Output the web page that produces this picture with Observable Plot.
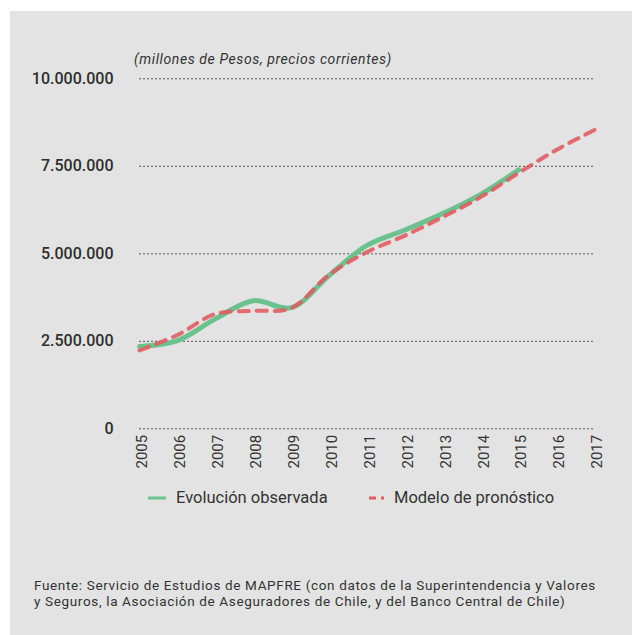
<!DOCTYPE html>
<html><head><meta charset="utf-8">
<script src="https://cdn.jsdelivr.net/npm/d3@7"></script>
<script src="https://cdn.jsdelivr.net/npm/@observablehq/plot@0.6"></script>
<style>
body{margin:0;background:#fff;width:632px;height:635px;overflow:hidden;font-family:Roboto,sans-serif;color:#333;}
#panel{position:absolute;left:10px;top:11px;width:622px;height:624px;background:#e2e3e2;}
#chart{position:absolute;left:0;top:0;}
.abs{position:absolute;white-space:nowrap;}
#sub{left:124px;top:40.7px;font-size:14px;line-height:14px;font-style:italic;letter-spacing:0.6px;}
.leg{top:479.3px;font-size:16.5px;line-height:16px;}
.foot{left:24px;font-size:13.5px;line-height:13.5px;letter-spacing:0.65px;}
</style></head>
<body>
<div id="panel">
  <div id="chart"></div>
  <div id="sub" class="abs">(millones de Pesos, precios corrientes)</div>
  <svg class="abs" style="left:0;top:0" width="622" height="624">
    <line x1="138" x2="156" y1="487" y2="487" stroke="#6cc28e" stroke-width="3"/>
    <line x1="359" x2="366" y1="487" y2="487" stroke="#e05a5e" stroke-width="3"/>
    <line x1="371" x2="374" y1="487" y2="487" stroke="#e05a5e" stroke-width="3"/>
  </svg>
  <div class="abs leg" style="left:166px">Evolución observada</div>
  <div class="abs leg" style="left:384px">Modelo de pronóstico</div>
  <div class="abs foot" style="top:568.3px">Fuente: Servicio de Estudios de MAPFRE (con datos de la Superintendencia y Valores</div>
  <div class="abs foot" style="top:583.6px">y Seguros, la Asociación de Aseguradores de Chile, y del Banco Central de Chile)</div>
</div>
<script>
const obsYears = [2005,2006,2007,2008,2009,2010,2011,2012,2013,2014,2015];
const observed = [2350000,2520000,3140000,3660000,3460000,4380000,5240000,5680000,6150000,6700000,7400000];
const modelYears = [2005,2006,2007,2008,2009,2010,2011,2012,2013,2014,2015,2016,2017];
const model = [2240000,2680000,3280000,3370000,3450000,4400000,5050000,5520000,6050000,6620000,7310000,7970000,8540000];
const xTicks = [2005,2006,2007,2008,2009,2010,2011,2012,2013,2014,2015,2016,2017];
const yTicks = [0,2500000,5000000,7500000,10000000];

const loc = d3.formatLocale({decimal:",",thousands:".",grouping:[3],currency:["$",""]});
const fmt = loc.format(",d");

const obsData = obsYears.map((x,i)=>({x, y: observed[i]}));
const modelData = modelYears.map((x,i)=>({x, y: model[i]}));

const chart = Plot.plot({
  width: 622, height: 459,
  marginLeft: 129, marginRight: 38, marginTop: 67.3, marginBottom: 41.7,
  style: {background: "transparent", fontFamily: "Roboto, sans-serif", color: "#333"},
  x: {domain: [2005, 2017], label: null},
  y: {domain: [0, 10000000], label: null},
  marks: [
    Plot.gridY(yTicks, {stroke: "#555", strokeOpacity: 1, strokeWidth: 1, strokeDasharray: "2,2"}),
    Plot.axisY(yTicks, {tickFormat: fmt, tickSize: 0, tickPadding: 26, fontSize: 16, fontWeight: 500, fill: "#2e2e2e", label: null}),
    Plot.axisX(xTicks, {tickFormat: d => String(d), tickRotate: -90, tickSize: 0, tickPadding: 6, dx: 3, fontSize: 15, fill: "#333", label: null}),
    Plot.line(obsData, {x: "x", y: "y", curve: "catmull-rom", stroke: "#6cc28e", strokeWidth: 5}),
    Plot.line(modelData, {x: "x", y: "y", curve: "catmull-rom", stroke: "#e05a5e", strokeWidth: 4, strokeDasharray: "10,8", strokeOpacity: 0.88})
  ]
});
document.getElementById("chart").appendChild(chart);
</script>
</body></html>
